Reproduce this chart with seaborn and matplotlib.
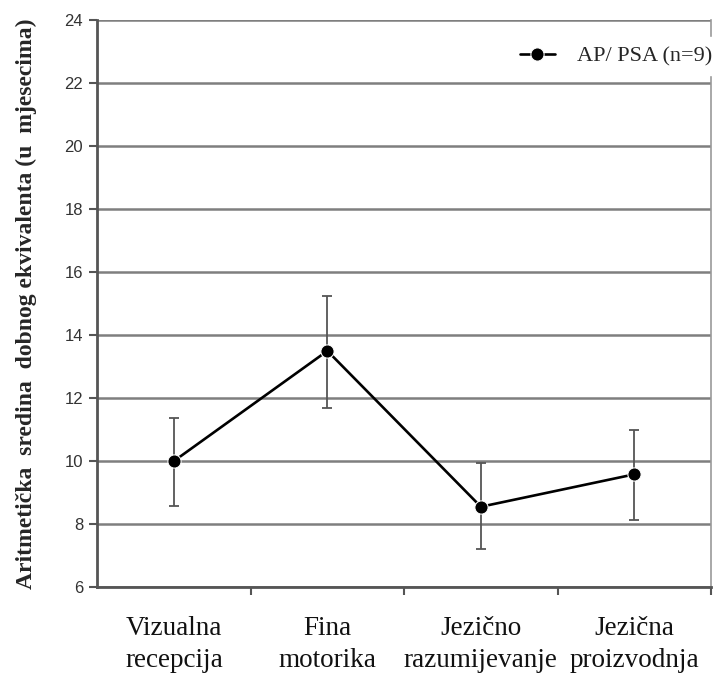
import numpy as np
import pandas as pd
import seaborn as sns
import matplotlib.pyplot as plt

categories = ['Vizualna\nrecepcija', 'Fina\nmotorika', 'Jezično\nrazumijevanje', 'Jezična\nproizvodnja']
means = [10.0, 13.5, 8.55, 9.58]
err_low = [8.58, 11.68, 7.2, 8.12]
err_high = [11.37, 15.25, 9.95, 10.98]
y_ticks = [6, 8, 10, 12, 14, 16, 18, 20, 22, 24]
series_name = 'AP/ PSA (n=9)'

sns.set_style('white')

df = pd.DataFrame({'kategorija': categories, 'vrijednost': means, 'grupa': series_name})

fig = plt.figure(figsize=(7.14, 6.74), dpi=100)
ax = fig.add_axes([0.136, 0.129, 0.86, 0.841])

# gridlines first so the data sits on top
for yv in y_ticks:
    ax.axhline(yv, color='#7f7f7f', lw=1.8, zorder=1)

lower = np.array(means) - np.array(err_low)
upper = np.array(err_high) - np.array(means)
ax.errorbar(categories, means, yerr=[lower, upper], fmt='none',
            ecolor='#555555', elinewidth=1.3, capsize=3.5, capthick=1.3, zorder=2)

sns.lineplot(data=df, x='kategorija', y='vrijednost', hue='grupa', palette=['black'],
             marker='o', markersize=9.5, lw=1.9, sort=False, ax=ax, zorder=3)

ax.set_xlim(-0.5, 3.5)
ax.set_ylim(6, 24)
ax.set_yticks(y_ticks)
ax.set_yticklabels([str(v) for v in y_ticks], fontfamily='Liberation Sans', fontsize=12, color='#333333')
ax.set_xticks(range(len(categories)))
ax.set_xticklabels(categories, fontfamily='Liberation Serif', fontsize=19.5, color='#111111',
                   linespacing=1.35)
ax.set_xticks([0.5, 1.5, 2.5, 3.5], minor=True)
ax.tick_params(axis='x', which='major', length=0, pad=21)
ax.tick_params(axis='x', which='minor', length=6, width=1.5, color='#555555', direction='out', bottom=True)
ax.tick_params(axis='y', length=6, width=1.5, color='#555555', direction='out', left=True, pad=4)

ax.set_xlabel('')
ax.set_ylabel('Aritmetička  sredina  dobnog ekvivalenta (u  mjesecima)',
              fontfamily='Liberation Serif', fontweight='bold', fontsize=17)
ax.yaxis.set_label_coords(-0.098, 0.5)

for side in ['left', 'bottom']:
    ax.spines[side].set_color('#555555')
    ax.spines[side].set_linewidth(2)
ax.spines['right'].set_color('#999999')
ax.spines['right'].set_linewidth(1.2)
ax.spines['top'].set_visible(False)

leg = ax.legend(loc='upper right', bbox_to_anchor=(1.035, 0.99), frameon=True, fancybox=False,
                edgecolor='white', framealpha=1, handlelength=1.6, handletextpad=1.0,
                prop={'family': 'Liberation Serif', 'size': 16})
leg.set_zorder(5)

plt.savefig('out.png', dpi=100)
